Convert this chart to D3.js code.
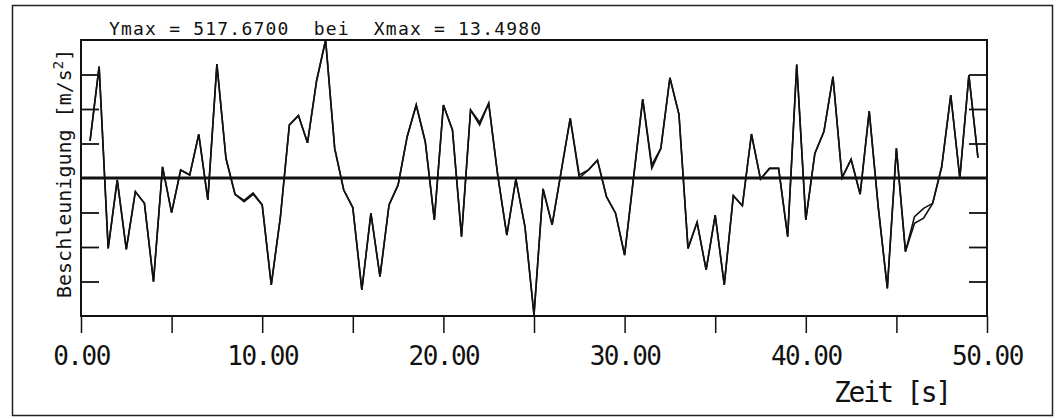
<!DOCTYPE html>
<html>
<head>
<meta charset="utf-8">
<script src="https://cdn.jsdelivr.net/npm/d3@7"></script>
<style>
  body { margin: 0; background: #fff; }
  svg { display: block; }
  text { font-family: "DejaVu Sans Mono", monospace; fill: #111; }
</style>
</head>
<body>
<script>
// sample times [s]
var zeit = [
  0.5, 1.0, 1.5, 2.0, 2.5, 3.0, 3.5, 4.0, 4.5, 5.0,
  5.5, 6.0, 6.5, 7.0, 7.5, 8.0, 8.5, 9.0, 9.5, 10.0,
  10.5, 11.0, 11.5, 12.0, 12.5, 13.0, 13.5, 14.0, 14.5, 15.0,
  15.5, 16.0, 16.5, 17.0, 17.5, 18.0, 18.5, 19.0, 19.5, 20.0,
  20.5, 21.0, 21.5, 22.0, 22.5, 23.0, 23.5, 24.0, 24.5, 25.0,
  25.5, 26.0, 26.5, 27.0, 27.5, 28.0, 28.5, 29.0, 29.5, 30.0,
  30.5, 31.0, 31.5, 32.0, 32.5, 33.0, 33.5, 34.0, 34.5, 35.0,
  35.5, 36.0, 36.5, 37.0, 37.5, 38.0, 38.5, 39.0, 39.5, 40.0,
  40.5, 41.0, 41.5, 42.0, 42.5, 43.0, 43.5, 44.0, 44.5, 45.0,
  45.5, 46.0, 46.5, 47.0, 47.5, 48.0, 48.5, 49.0, 49.5
];

// acceleration, first curve [m/s^2]
var beschl1 = [
  139, 418, -264, -7, -268, -51, -95, -389, 42, -130,
  30, 11, 164, -82, 427, 74, -61, -89, -61, -101,
  -401, -149, 199, 234, 132, 364, 517.67, 111, -45, -111,
  -420, -132, -370, -101, -26, 155, 274, 136, -157, 274,
  180, -220, 255, 199, 280, 10, -214, -4, -182, -514,
  -41, -176, 25, 224, 0, 30, 67, -70, -132, -289,
  5, 296, 36, 111, 376, 239, -264, -166, -345, -139,
  -401, -66, -104, 165, -4, 36, 36, -220, 426, -157,
  92, 174, 380, 1, 70, -61, 251, -110, -414, 111,
  -276, -170, -151, -95, 42, 311, 0, 386, 76
];

// acceleration, second curve [m/s^2]
var beschl2 = [
  139, 418, -264, -7, -268, -51, -95, -389, 42, -130,
  30, 11, 164, -82, 427, 74, -61, -84, -56, -101,
  -401, -149, 199, 234, 132, 364, 517.67, 111, -45, -111,
  -420, -132, -370, -101, -26, 155, 274, 136, -157, 274,
  180, -220, 255, 209, 280, 10, -214, -4, -182, -514,
  -41, -176, 25, 224, 11, 30, 67, -70, -132, -289,
  5, 296, 49, 111, 376, 239, -264, -166, -345, -139,
  -401, -66, -104, 165, -4, 36, 36, -220, 426, -157,
  92, 174, 380, 1, 70, -61, 251, -110, -414, 111,
  -276, -145, -114, -95, 42, 311, 0, 386, 76
];

var yMax = 517.67;
var xTickValues = [0, 5, 10, 15, 20, 25, 30, 35, 40, 45, 50];
var xLabelValues = [0, 10, 20, 30, 40, 50];
var yTickValues = [-388.25, -258.835, -129.4175, 129.4175, 258.835, 388.25];
var titel = "Ymax = 517.6700  bei  Xmax = 13.4980";

var width = 1056, height = 419;
var margin = { top: 40, right: 69, bottom: 103, left: 81 };
var w = width - margin.left - margin.right;
var h = height - margin.top - margin.bottom;

var svg = d3.select("body").append("svg")
  .attr("width", width)
  .attr("height", height);

// outer frame
svg.append("rect")
  .attr("x", 12.5).attr("y", 5.5)
  .attr("width", 1040).attr("height", 410)
  .attr("fill", "none")
  .attr("stroke", "#222")
  .attr("stroke-width", 1.5);

var g = svg.append("g")
  .attr("transform", "translate(" + margin.left + "," + margin.top + ")");

var x = d3.scaleLinear().domain([0, 50]).range([0, w]);
var y = d3.scaleLinear().domain([-yMax, yMax]).range([h, 0]);

// y ticks, inside on both sides, no labels
g.append("g")
  .call(d3.axisLeft(y).tickValues(yTickValues).tickSize(-18).tickFormat(""))
  .call(function (a) { a.select(".domain").remove(); })
  .selectAll("line").attr("stroke", "#111").attr("stroke-width", 1.8);

g.append("g")
  .attr("transform", "translate(" + w + ",0)")
  .call(d3.axisRight(y).tickValues(yTickValues).tickSize(-18).tickFormat(""))
  .call(function (a) { a.select(".domain").remove(); })
  .selectAll("line").attr("stroke", "#111").attr("stroke-width", 1.8);

// x axis
var xAxis = g.append("g")
  .attr("transform", "translate(0," + h + ")")
  .call(d3.axisBottom(x).tickValues(xTickValues).tickSize(17)
    .tickFormat(function (d) { return xLabelValues.indexOf(d) >= 0 ? d3.format(".2f")(d) : ""; }));
xAxis.select(".domain").remove();
xAxis.selectAll("line").attr("stroke", "#111").attr("stroke-width", 1.5);
xAxis.selectAll("text")
  .attr("y", 49).attr("dy", 0)
  .attr("fill", "#222")
  .style("font-family", "DejaVu Sans Mono")
  .style("font-size", "26px")
  .style("letter-spacing", "-1.5px");

// plot frame
g.append("rect")
  .attr("x", 0).attr("y", 0)
  .attr("width", w).attr("height", h)
  .attr("fill", "none")
  .attr("stroke", "#111")
  .attr("stroke-width", 2);

// zero line
g.append("line")
  .attr("x1", 0).attr("x2", w)
  .attr("y1", y(0)).attr("y2", y(0))
  .attr("stroke", "#111")
  .attr("stroke-width", 3);

var line = d3.line()
  .x(function (d, i) { return x(zeit[i]); })
  .y(function (d) { return y(d); });

[beschl1, beschl2].forEach(function (s) {
  g.append("path")
    .datum(s)
    .attr("fill", "none")
    .attr("stroke", "#111")
    .attr("stroke-width", 1.6)
    .attr("stroke-linejoin", "miter")
    .attr("d", line);
});

// title
svg.append("text")
  .attr("x", 109).attr("y", 35)
  .style("font-size", "18px")
  .style("letter-spacing", "1.2px")
  .style("white-space", "pre")
  .attr("xml:space", "preserve")
  .text(titel);

// axis titles
var yl = svg.append("text")
  .attr("transform", "translate(71,298) rotate(-90)")
  .style("font-size", "20px");
yl.append("tspan").text("Beschleunigung [m/s");
yl.append("tspan").attr("dy", -8).style("font-size", "14px").text("2");
yl.append("tspan").attr("dy", 8).text("]");

svg.append("text")
  .attr("x", 834).attr("y", 402)
  .attr("fill", "#222")
  .style("font-size", "28px")
  .style("letter-spacing", "-2.4px")
  .text("Zeit [s]");
</script>
</body>
</html>
